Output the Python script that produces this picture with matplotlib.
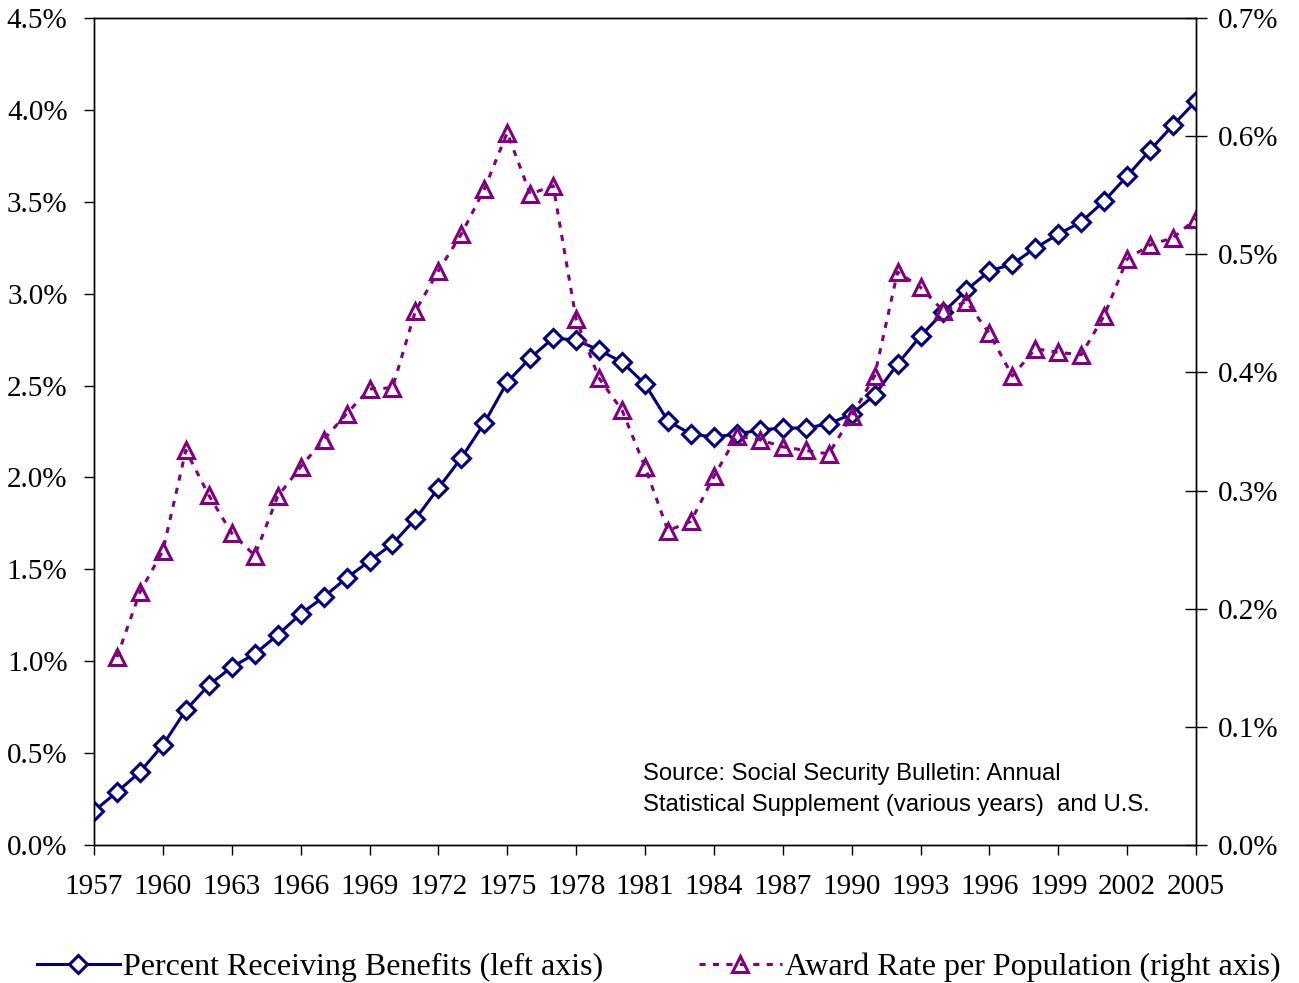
import numpy as np
import matplotlib
matplotlib.use("Agg")
import matplotlib.pyplot as plt
from matplotlib.ticker import FuncFormatter

years = list(range(1957, 2006))

# percent of population receiving benefits (left axis, %)
pct_receiving = [0.185, 0.288, 0.397, 0.544, 0.734, 0.870, 0.968, 1.039, 1.143, 1.257,
                 1.349, 1.453, 1.545, 1.638, 1.774, 1.942, 2.106, 2.296, 2.519, 2.650,
                 2.758, 2.748, 2.693, 2.628, 2.508, 2.307, 2.236, 2.220, 2.236, 2.258,
                 2.269, 2.269, 2.291, 2.345, 2.448, 2.617, 2.769, 2.900, 3.020, 3.123,
                 3.161, 3.248, 3.324, 3.390, 3.504, 3.640, 3.781, 3.917, 4.048]

# award rate per population (right axis, %), starts 1958
award_years = list(range(1958, 2006))
award_rate = [0.159, 0.214, 0.249, 0.334, 0.296, 0.264, 0.245, 0.295, 0.320, 0.343,
              0.365, 0.386, 0.387, 0.452, 0.486, 0.517, 0.555, 0.603, 0.551, 0.558,
              0.445, 0.395, 0.368, 0.320, 0.266, 0.274, 0.312, 0.346, 0.343, 0.337,
              0.334, 0.331, 0.363, 0.397, 0.485, 0.472, 0.452, 0.460, 0.433, 0.397,
              0.420, 0.417, 0.415, 0.448, 0.496, 0.508, 0.514, 0.530]

xtick_years = list(range(1957, 2006, 3))

serif = ['Liberation Serif', 'DejaVu Serif']
navy = '#000080'
purple = '#800080'

fig = plt.figure(figsize=(12.99, 9.83), dpi=100)
ax = fig.add_axes([94 / 1299, 1 - 845 / 983, (1196 - 94) / 1299, (845 - 18) / 983])
ax2 = ax.twinx()

l1, = ax.plot(years, pct_receiving, color=navy, lw=2.2, marker='D', ms=9,
              mfc='white', mec=navy, mew=2.2,
              label='Percent Receiving Benefits (left axis)')
l2, = ax2.plot(award_years, award_rate, color=purple, lw=2.2, ls=(0, (2.0, 2.4)),
               marker='^', ms=12, mfc='none', mec=purple, mew=2.2,
               label='Award Rate per Population (right axis)')

ax.set_xlim(1957, 2005)
ax.set_ylim(0, 4.5)
ax2.set_ylim(0, 0.7)
ax.set_yticks(np.arange(0, 4.51, 0.5))
ax2.set_yticks(np.arange(0, 0.71, 0.1))
ax.set_xticks(xtick_years)

ax.yaxis.set_major_formatter(FuncFormatter(lambda v, p: f'{v:.1f}%'))
ax2.yaxis.set_major_formatter(FuncFormatter(lambda v, p: f'{v:.1f}%'))

ax.tick_params(axis='y', direction='out', length=7, width=1, pad=12, labelsize=21)
ax.tick_params(axis='x', direction='out', length=7, width=1, pad=14, labelsize=21)
ax2.tick_params(axis='y', direction='inout', length=16, width=1, pad=8, labelsize=21)
for lab in ax.get_xticklabels() + ax.get_yticklabels() + ax2.get_yticklabels():
    lab.set_family(serif)

for a in (ax, ax2):
    for s in a.spines.values():
        s.set_linewidth(1.0)

ax.text(0.4985, 0.099, 'Source: Social Security Bulletin: Annual\n'
        'Statistical Supplement (various years)  and U.S.',
        transform=ax.transAxes, family='Liberation Sans', fontsize=17.2,
        linespacing=1.5, va='top', ha='left')

fig.legend([l1, l2], [l1.get_label(), l2.get_label()], loc='lower center',
           bbox_to_anchor=(0.507, -0.012), ncol=2, frameon=False,
           prop={'family': serif, 'size': 23}, handlelength=2.6,
           handletextpad=0.1, columnspacing=3.0, borderaxespad=0.0)

fig.savefig('out.png', dpi=100)
